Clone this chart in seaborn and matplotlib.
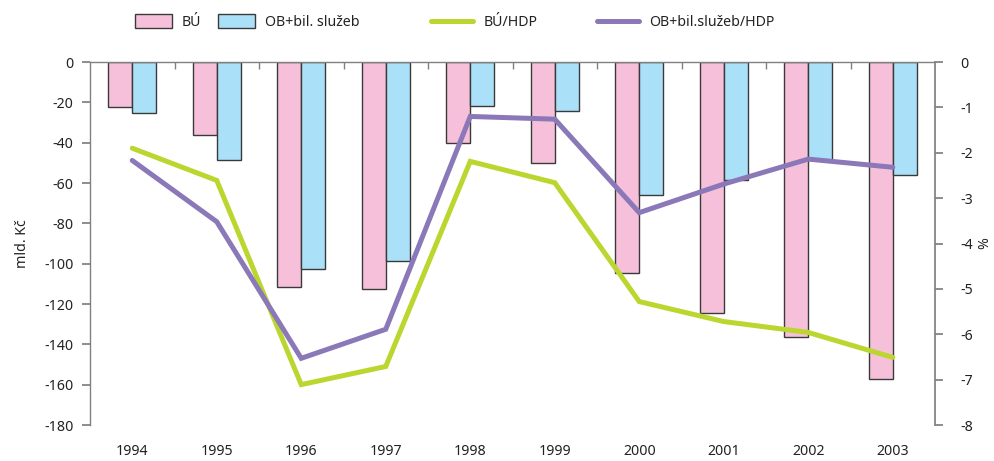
import numpy as np
import pandas as pd
import matplotlib
matplotlib.use("Agg")
import matplotlib.pyplot as plt
from matplotlib.ticker import FixedLocator
from matplotlib.patches import Patch
from matplotlib.lines import Line2D
import seaborn as sns

years = ["1994", "1995", "1996", "1997", "1998", "1999", "2000", "2001", "2002", "2003"]
bu = [-22.3, -36.2, -111.7, -112.7, -40.3, -50.2, -104.8, -124.3, -136.2, -157.0]
ob = [-25.4, -48.6, -102.5, -98.8, -21.8, -24.3, -66.1, -58.5, -48.5, -56.0]
bu_hdp = [-1.90, -2.61, -7.11, -6.71, -2.19, -2.66, -5.28, -5.72, -5.96, -6.51]
ob_hdp = [-2.17, -3.52, -6.53, -5.89, -1.20, -1.26, -3.32, -2.69, -2.14, -2.32]

bar_names = ["BÚ", "OB+bil. služeb"]
line_names = ["BÚ/HDP", "OB+bil.služeb/HDP"]
left_ticks = [0, -20, -40, -60, -80, -100, -120, -140, -160, -180]
right_ticks = [0, -1, -2, -3, -4, -5, -6, -7, -8]

sns.set_theme(style="white")
plt.rcParams["font.family"] = ["Noto Sans", "DejaVu Sans"]

pink = "#F6C0DA"
blue = "#AAE0F8"
green = "#BCD630"
purple = "#8B78B8"
axis_gray = "#808080"
txt = "#222222"
fs = 10.2

df = pd.DataFrame({
    "rok": years * 2,
    "hodnota": bu + ob,
    "serie": [bar_names[0]] * len(years) + [bar_names[1]] * len(years),
})

fig = plt.figure(figsize=(9.95, 4.61), dpi=100)
ax = fig.add_axes([90 / 995, 1 - 425 / 461, (935 - 90) / 995, (425 - 62) / 461])

sns.barplot(data=df, x="rok", y="hodnota", hue="serie", order=years,
            hue_order=bar_names, palette=[pink, blue], saturation=1, width=0.57,
            edgecolor="#3a3a3a", linewidth=1.0, ax=ax, legend=False)

ax.set_xlim(-0.5, len(years) - 0.5)
ax.set_ylim(-180, 0)
ax.set_yticks(left_ticks)
ax.set_yticklabels([str(t) for t in left_ticks], fontsize=fs, color=txt)
ax.set_xlabel("")
ax.set_ylabel("mld. Kč", fontsize=fs, color=txt, labelpad=10)

for s in ["bottom", "right"]:
    ax.spines[s].set_visible(False)
for s in ["top", "left"]:
    ax.spines[s].set_visible(True)
    ax.spines[s].set_color(axis_gray)
    ax.spines[s].set_linewidth(1.0)

ax.tick_params(axis="y", which="major", left=True, direction="out", length=6,
               color=axis_gray, pad=6)
ax.tick_params(axis="x", which="major", bottom=False, top=False, labelbottom=True,
               labelsize=fs, labelcolor=txt, pad=8)
ax.xaxis.set_minor_locator(FixedLocator(np.arange(0.5, len(years) - 1, 1.0)))
ax.tick_params(axis="x", which="minor", top=True, bottom=False, direction="in",
               length=5, color=axis_gray, width=1.0)

ax2 = ax.twinx()
xpos = np.arange(len(years))
sns.lineplot(x=xpos, y=bu_hdp, ax=ax2, color=green, linewidth=3.6,
             solid_capstyle="round", solid_joinstyle="miter")
sns.lineplot(x=xpos, y=ob_hdp, ax=ax2, color=purple, linewidth=3.6,
             solid_capstyle="round", solid_joinstyle="miter")
ax2.set_ylim(-8, 0)
ax2.set_yticks(right_ticks)
ax2.set_yticklabels([str(t) for t in right_ticks], fontsize=fs, color=txt)
ax2.set_ylabel("%", fontsize=fs, color=txt, labelpad=3)
for s in ["top", "bottom", "left"]:
    ax2.spines[s].set_visible(False)
ax2.spines["right"].set_visible(True)
ax2.spines["right"].set_color(axis_gray)
ax2.tick_params(axis="y", right=True, direction="out", length=6, color=axis_gray, pad=12)
ax2.grid(False)
ax.grid(False)

bar_handles = [Patch(facecolor=pink, edgecolor="#3a3a3a", linewidth=1.0),
               Patch(facecolor=blue, edgecolor="#3a3a3a", linewidth=1.0)]
line_handles = [Line2D([0], [0], color=green, linewidth=3.6, solid_capstyle="round"),
                Line2D([0], [0], color=purple, linewidth=3.6, solid_capstyle="round")]

leg1 = fig.legend(bar_handles, bar_names, loc="center left",
                  bbox_to_anchor=(122 / 995, 1 - 22 / 461), ncol=2, frameon=False,
                  fontsize=fs, handlelength=2.6, handleheight=1.1,
                  columnspacing=1.2, handletextpad=0.7)
leg2 = fig.legend(line_handles, line_names, loc="center left",
                  bbox_to_anchor=(418 / 995, 1 - 22 / 461), ncol=2, frameon=False,
                  fontsize=fs, handlelength=3.0, columnspacing=4.2,
                  handletextpad=0.7)
for t in list(leg1.get_texts()) + list(leg2.get_texts()):
    t.set_color(txt)

fig.savefig("out.png", dpi=100)
